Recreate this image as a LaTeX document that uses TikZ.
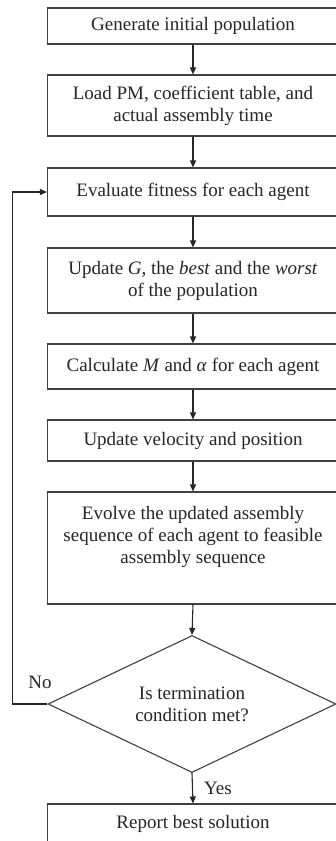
\documentclass[tikz,border=0pt]{standalone}
\usepackage{fontspec}
\setmainfont{Liberation Serif}
\usetikzlibrary{shapes.geometric,arrows.meta}
\begin{document}
\begin{tikzpicture}[x=1pt,y=1pt,
  every node/.style={text=black!85, font=\fontsize{19}{22}\selectfont},
  box/.style={draw=black!75, line width=1.1pt, rectangle, minimum width=291pt, inner sep=0pt, align=center},
  arr/.style={draw=black!85, line width=1.1pt, -{Triangle[length=7pt,width=6pt]}},
  plain/.style={inner sep=0pt, align=center}
]
\useasboundingbox (0,0) rectangle (336,-841);
\fill[white] (0,0) rectangle (336,-841);
\node[box, minimum height=36pt] (b1) at (193,-26) {Generate initial population};
\node[box, minimum height=61pt] (b2) at (193,-105.5) {Load PM, coefficient table, and\\actual assembly time};
\node[box, minimum height=48pt] (b3) at (193,-192) {Evaluate fitness for each agent};
\node[box, minimum height=65pt] (b4) at (193,-280.5) {Update \textit{G}, the \textit{best} and the \textit{worst}\\of the population};
\node[box, minimum height=45pt] (b5) at (193,-366.5) {Calculate \textit{M} and \textit{α} for each agent};
\node[box, minimum height=41pt] (b6) at (193,-440.5) {Update velocity and position};
\node[box, minimum height=112pt] (b7) at (193,-548) {};
\node[plain] (b7t) at (193,-537) {Evolve the updated assembly\\sequence of each agent to feasible\\assembly sequence};
\node[draw=black!75, line width=1.1pt, diamond, aspect=2.1, minimum width=288pt, minimum height=137pt, inner sep=0pt, align=center] (d) at (192,-704) {Is termination\\condition met?};
\node[box, minimum height=40pt] (b8) at (193,-824) {Report best solution};
\node[plain] (no) at (40,-682) {No};
\node[plain] (yes) at (218,-788) {Yes};
\draw[arr] (b1) -- (b2);
\draw[arr] (b2) -- (b3);
\draw[arr] (b3) -- (b4);
\draw[arr] (b4) -- (b5);
\draw[arr] (b5) -- (b6);
\draw[arr] (b6) -- (b7);
\draw[arr] (b7.south) -- (d.north);
\draw[arr] (d.south) -- (b8.north);
\draw[arr] (d.west) -- ++(-35,0) |- (b3.west);
\end{tikzpicture}
\end{document}
